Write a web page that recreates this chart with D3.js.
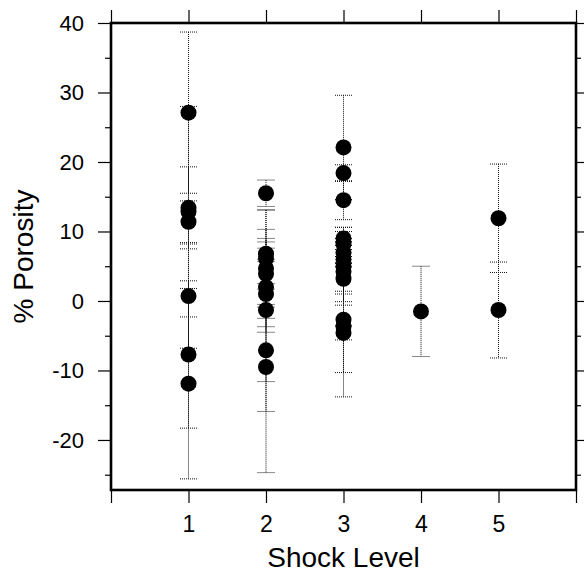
<!DOCTYPE html>
<html>
<head>
<meta charset="utf-8">
<script src="https://cdn.jsdelivr.net/npm/d3@7"></script>
<style>
html,body{margin:0;padding:0;background:#fff;}
svg{display:block;font-family:"Liberation Sans", Arial, Helvetica, sans-serif;}
</style>
</head>
<body>
<svg id="chart" width="584" height="573"></svg>
<script>
// Shock level of each measurement
const shockLevel = [
  1,1,1,1,1,1,1,
  2,2,2,2,2,2,2,2,2,2,
  3,3,3,3,3,3,3,3,3,3,3,3,3,
  4,
  5,5
];
// % porosity value of each measurement
const porosity = [
  27.1,13.4,12.85,11.4,0.7,-7.7,-11.9,
  15.5,6.8,6.1,4.7,3.9,2.0,1.0,-1.3,-7.1,-9.5,
  22.1,18.4,14.5,9.0,8.2,7.0,6.0,5.0,4.2,3.2,-2.7,-3.7,-4.6,
  -1.5,
  11.9,-1.3
];
// symmetric uncertainty of each measurement
const errorBar = [
  11.6,5.9,15.15,3.0,7.5,10.6,13.7,
  1.9,0.8,7.0,8.4,6.4,6.5,1.5,10.3,8.8,15.2,
  7.5,1.2,2.8,1.0,0.8,1.5,4.6,5.6,4.3,2.2,7.6,10.1,1.0,
  6.5,
  7.8,6.9
];
const xTicks = [0,1,2,3,4,5,6];
const xTickLabels = ["","1","2","3","4","5",""];
const yTicks = [-20,-10,0,10,20,30,40];
const yTickLabels = ["-20","-10","0","10","20","30","40"];
const yMinorTicks = [-25,-15,-5,5,15,25,35];
const xTitle = "Shock Level";
const yTitle = "% Porosity";

const svg = d3.select("#chart");
const L = 111, R = 576, T = 23, B = 490;
const x = d3.scaleLinear().domain([0,6]).range([L,R]);
const y = d3.scaleLinear().domain([-27.2,40]).range([B,T]);

// error bars
const eb = svg.append("g").attr("stroke","#111").attr("stroke-width",1)
  .attr("stroke-dasharray","1,1").attr("fill","none");
const capHalf = 8.5;
porosity.forEach((v,i)=>{
  const cx = x(shockLevel[i]);
  const hi = y(v + errorBar[i]), lo = y(v - errorBar[i]);
  eb.append("line").attr("x1",cx).attr("x2",cx).attr("y1",hi).attr("y2",lo);
  eb.append("line").attr("x1",cx-capHalf).attr("x2",cx+capHalf).attr("y1",hi).attr("y2",hi);
  eb.append("line").attr("x1",cx-capHalf).attr("x2",cx+capHalf).attr("y1",lo).attr("y2",lo);
});

// points
svg.append("g").selectAll("circle").data(porosity).join("circle")
  .attr("cx",(d,i)=>x(shockLevel[i])).attr("cy",d=>y(d)).attr("r",8).attr("fill","#000");

// axes
function styleAxis(g){
  g.select(".domain").remove();
  g.selectAll(".tick line").attr("stroke","#000").attr("stroke-width",1.2);
  g.selectAll(".tick text").attr("fill","#000");
}
svg.append("g").attr("transform",`translate(0,${B})`)
  .call(d3.axisBottom(x).tickValues(xTicks).tickSize(13).tickPadding(13)
    .tickFormat((d,i)=>xTickLabels[i]))
  .call(styleAxis)
  .call(g=>g.selectAll("text").attr("font-size",23).attr("font-family","Liberation Sans, Arial, sans-serif"));
svg.append("g").attr("transform",`translate(0,${T})`)
  .call(d3.axisTop(x).tickValues(xTicks).tickSize(13).tickFormat(""))
  .call(styleAxis);
svg.append("g").attr("transform",`translate(${L},0)`)
  .call(d3.axisLeft(y).tickValues(yTicks).tickSize(13).tickPadding(14).tickFormat((d,i)=>yTickLabels[i]))
  .call(styleAxis)
  .call(g=>g.selectAll("text").attr("font-size",22).attr("font-family","Liberation Sans, Arial, sans-serif"));
svg.append("g").attr("transform",`translate(${L},0)`)
  .call(d3.axisLeft(y).tickValues(yMinorTicks).tickSize(6).tickFormat(""))
  .call(styleAxis);
svg.append("g").attr("transform",`translate(${R},0)`)
  .call(d3.axisRight(y).tickValues(yTicks).tickSize(9).tickFormat(""))
  .call(styleAxis);
svg.append("g").attr("transform",`translate(${R},0)`)
  .call(d3.axisRight(y).tickValues(yMinorTicks).tickSize(5).tickFormat(""))
  .call(styleAxis);

// frame
svg.append("rect").attr("x",L).attr("y",T).attr("width",R-L).attr("height",B-T)
  .attr("fill","none").attr("stroke","#000").attr("stroke-width",2.6);

// titles
svg.append("text").attr("x",(L+R)/2).attr("y",567).attr("text-anchor","middle")
  .attr("font-size",28).attr("fill","#000").text(xTitle);
svg.append("text").attr("transform",`translate(33,${(T+B)/2}) rotate(-90)`)
  .attr("text-anchor","middle").attr("font-size",28).attr("fill","#000").text(yTitle);
</script>
</body>
</html>
